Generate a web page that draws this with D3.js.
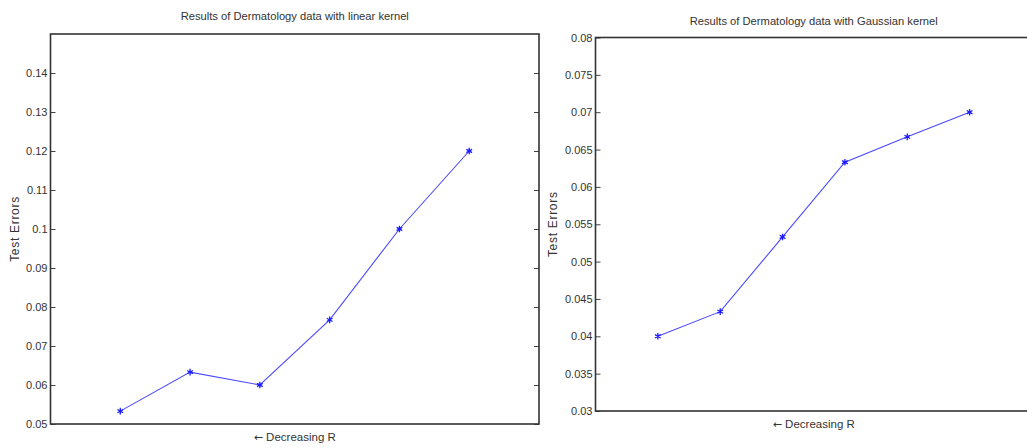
<!DOCTYPE html>
<html>
<head>
<meta charset="utf-8">
<script src="https://cdnjs.cloudflare.com/ajax/libs/d3/7.8.5/d3.min.js"></script>
<style>
  body { margin: 0; background: #fff; }
  svg { display: block; }
  text { font-family: "Liberation Sans", Arial, sans-serif; fill: #333; }
</style>
</head>
<body>
<svg id="chart"></svg>
<script>
// data
var steps = [1, 2, 3, 4, 5, 6];
var linearErrors = [0.0533, 0.0633, 0.06, 0.0767, 0.1, 0.12];
var gaussianErrors = [0.04, 0.0433, 0.0533, 0.0633, 0.0667, 0.07];
var linearTicks = [0.05, 0.06, 0.07, 0.08, 0.09, 0.1, 0.11, 0.12, 0.13, 0.14];
var gaussianTicks = [0.03, 0.035, 0.04, 0.045, 0.05, 0.055, 0.06, 0.065, 0.07, 0.075, 0.08];
var titles = ["Results of Dermatology data with linear kernel", "Results of Dermatology data with Gaussian kernel"];

var W = 1027, H = 448;
var svg = d3.select("#chart").attr("width", W).attr("height", H);

function panel(box, values, yDomain, ticks, title, titleY, xlabY, ylabX) {
	var x = d3.scaleLinear().domain([0, 7]).range([box.left, box.right]);
	var y = d3.scaleLinear().domain(yDomain).range([box.bottom, box.top]);
	var g = svg.append("g");

	// ticks inside, on both sides (matlab style)
	var yl = d3.axisLeft(y).tickValues(ticks).tickSize(-5).tickPadding(3)
		.tickFormat(function(d) { return String(+d.toFixed(3)); });
	var ax = g.append("g").attr("transform", "translate(" + box.left + ",0)").call(yl);
	ax.select(".domain").remove();
	ax.selectAll("line").attr("stroke", "#444");
	ax.selectAll("text").attr("font-size", 11).style("fill", "#333");

	var yr = d3.axisRight(y).tickValues(ticks).tickSize(-5).tickFormat("");
	var axr = g.append("g").attr("transform", "translate(" + box.right + ",0)").call(yr);
	axr.select(".domain").remove();
	axr.selectAll("line").attr("stroke", "#444");

	g.append("rect")
		.attr("x", box.left).attr("y", box.top)
		.attr("width", box.right - box.left).attr("height", box.bottom - box.top)
		.attr("fill", "none").attr("stroke", "#333").attr("stroke-width", 1.6);

	var line = d3.line().x(function(d, i) { return x(steps[i]); }).y(function(d) { return y(d); });
	g.append("path").datum(values)
		.attr("d", line).attr("fill", "none")
		.attr("stroke", "#4a4aff").attr("stroke-width", 1.1);

	var star = d3.symbol().type(d3.symbolAsterisk).size(30);
	g.selectAll(".pt").data(values).enter().append("path")
		.attr("class", "pt")
		.attr("transform", function(d, i) { return "translate(" + x(steps[i]) + "," + y(d) + ")"; })
		.attr("d", star)
		.attr("fill", "none").attr("stroke", "#1a1aff").attr("stroke-width", 1.3);

	var cx = (box.left + box.right) / 2;
	g.append("text").attr("x", cx).attr("y", titleY)
		.attr("text-anchor", "middle").attr("font-size", 11.2).text(title);
	var xl = g.append("text").attr("x", cx).attr("y", xlabY)
		.attr("text-anchor", "middle").attr("font-size", 11.5);
	xl.append("tspan").style("font-family", "'DejaVu Sans'").attr("font-size", 11).text("\u2190");
	xl.append("tspan").text(" Decreasing R");
	g.append("text")
		.attr("transform", "translate(" + ylabX + "," + ((box.top + box.bottom) / 2) + ") rotate(-90)")
		.attr("text-anchor", "middle").attr("font-size", 12).attr("letter-spacing", 0.7)
		.text("Test Errors");
}

panel({left: 50.5, right: 539, top: 34, bottom: 424}, linearErrors, [0.05, 0.15], linearTicks, titles[0], 20, 441, 19);
panel({left: 595.5, right: 1032, top: 37.5, bottom: 411}, gaussianErrors, [0.03, 0.08], gaussianTicks, titles[1], 25, 428, 557);
</script>
</body>
</html>
